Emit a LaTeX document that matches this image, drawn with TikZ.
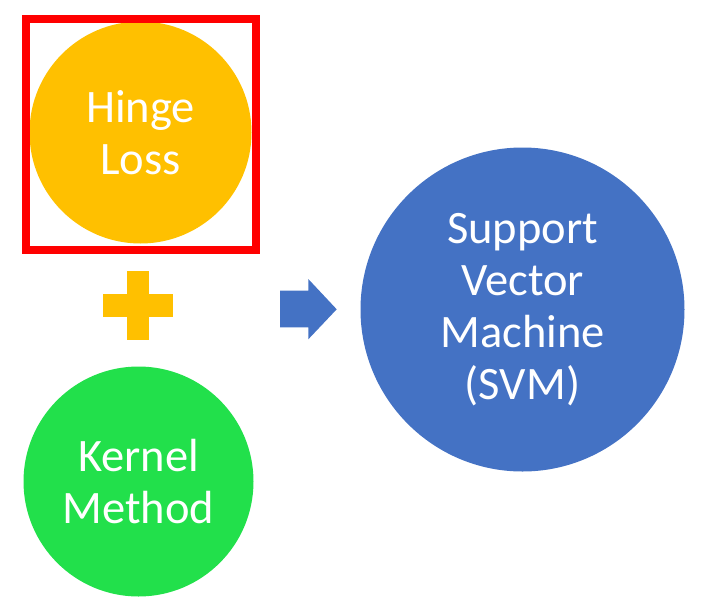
\documentclass[tikz,border=0pt]{standalone}
\usepackage{fontspec}
\setmainfont{Carlito}
\definecolor{hingeorange}{HTML}{FFC000}
\definecolor{kernelgreen}{HTML}{22E04B}
\definecolor{svmblue}{HTML}{4472C4}
\begin{document}
\begin{tikzpicture}[x=1pt, y=-1pt,
    blob/.style={circle, draw=none, text=white, align=center,
        font=\fontsize{46.5}{52}\selectfont}]

    % cornice della figura
    \useasboundingbox (0,0) rectangle (705,614);

    % -- Cerchi --
    \node[blob, fill=hingeorange, minimum size=222pt] (hinge) at (140.5,132.5) {Hinge\\Loss};
    \node[blob, fill=kernelgreen, minimum size=230pt] (kernel) at (138.5,481.5) {Kernel\\Method};
    \node[blob, fill=svmblue, minimum size=324pt] (svm) at (522.5,309.5) {Support\\Vector\\Machine\\(SVM)};

    % -- Riquadro rosso attorno a Hinge Loss --
    \draw[red, line width=8.5pt] (26,19) rectangle (256,250);

    % -- Segno piu' --
    \fill[hingeorange] (127.3,270.7) rectangle (149.3,340);
    \fill[hingeorange] (103.3,294.3) rectangle (173.3,316.7);

    % -- Freccia blu --
    \fill[svmblue] (280,290.7) -- (308.3,290.7) -- (308.3,279)
                   -- (336.7,309.3) -- (308.3,339.3) -- (308.3,327.3)
                   -- (280,327.3) -- cycle;
\end{tikzpicture}
\end{document}
